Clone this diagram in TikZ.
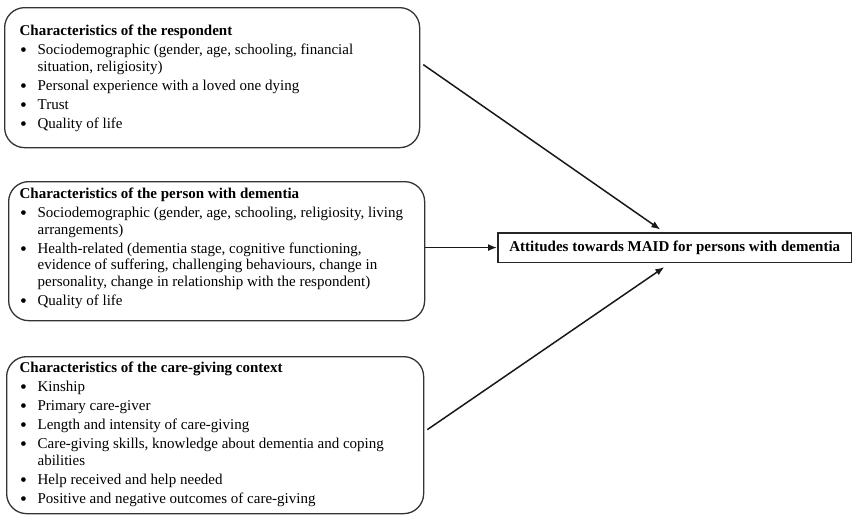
\documentclass[tikz,border=0pt]{standalone}
\usepackage{fontspec}
\usepackage{graphicx}
\setmainfont{Liberation Serif}
\usetikzlibrary{arrows.meta}
\tikzset{
  factor/.style={draw=black!80, line width=1.3pt, rounded corners=20pt, inner sep=0pt, anchor=north west},
  outcome/.style={draw=black!85, line width=1.6pt, inner sep=0pt, minimum width=354pt, minimum height=29.5pt, anchor=north west, font=\fontsize{15}{18}\selectfont\bfseries},
  arr/.style={draw=black!90, line width=1.5pt, -{Latex[length=9pt,width=7pt]}},
}
\newcommand\boxtext[4]{\begin{minipage}[t][#2][t]{#1}\fontsize{15}{16.5}\selectfont\raggedright\leftskip=#3\relax\parskip=2.5pt\relax #4\end{minipage}}
\newcommand\ttl[2]{\noindent\rule{0pt}{#1}\textbf{#2}\par}
\newcommand\bitem[1]{\noindent\hangindent=18pt\hangafter=1\makebox[18pt][l]{\hspace{0.5pt}\raisebox{-2pt}{\scalebox{1.3}{\textbullet}}}#1\par}
\begin{document}
\begin{tikzpicture}[x=1pt,y=-1pt]
\useasboundingbox (0,0) rectangle (852,515);
\node[factor] (resp) at (4,7) {\boxtext{415pt}{140pt}{15pt}{%
\ttl{28pt}{Characteristics of the respondent}
\bitem{Sociodemographic (gender, age, schooling, financial\newline situation, religiosity)}
\bitem{Personal experience with a loved one dying}
\bitem{Trust}
\bitem{Quality of life}}};
\node[factor] (dem) at (8,181) {\boxtext{416pt}{139pt}{11pt}{%
\ttl{17pt}{Characteristics of the person with dementia}
\bitem{Sociodemographic (gender, age, schooling, religiosity, living\newline arrangements)}
\bitem{Health-related (dementia stage, cognitive functioning,\newline evidence of suffering, challenging behaviours, change in\newline personality, change in relationship with the respondent)}
\bitem{Quality of life}}};
\node[factor] (care) at (6,356) {\boxtext{417pt}{157pt}{13pt}{%
\ttl{16pt}{Characteristics of the care-giving context}
\bitem{Kinship}
\bitem{Primary care-giver}
\bitem{Length and intensity of care-giving}
\bitem{Care-giving skills, knowledge about dementia and coping\newline abilities}
\bitem{Help received and help needed}
\bitem{Positive and negative outcomes of care-giving}}};
\node[outcome] (att) at (497,232) {Attitudes towards MAID for persons with dementia};
\draw[arr] ([xshift=3pt,yshift=13pt]resp.east) -- ([xshift=-14.5pt,yshift=2.5pt]att.north);
\draw[arr] (dem.east |- att.west) -- (att.west);
\draw[arr] ([xshift=3pt,yshift=5.5pt]care.east) -- ([xshift=-10.5pt,yshift=-4pt]att.south);
\end{tikzpicture}
\end{document}
